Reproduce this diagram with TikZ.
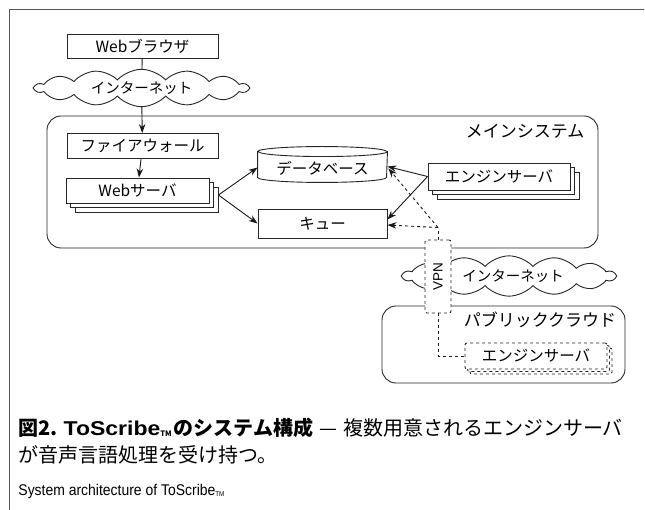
\documentclass[tikz,border=0pt]{standalone}
\usepackage{fontspec}
\setmainfont{Liberation Sans}
\newfontfamily\jp{Noto Sans CJK JP}
\newfontfamily\capen{Liberation Sans}[FakeStretch=0.9]
\newfontfamily\capwide{Liberation Sans}[FakeStretch=1.15]
\usetikzlibrary{shapes.symbols,shadows,arrows.meta,calc}
\begin{document}
\begin{tikzpicture}[x=1pt,y=-1pt,
  line width=0.9pt,
  box/.style={draw=black!85, fill=white, rectangle, inner sep=0pt, font=\jp\fontsize{15.5}{15.5}\selectfont},
  stack/.style={box, double copy shadow={shadow xshift=4.5pt, shadow yshift=-4.5pt, draw=black!85, fill=white}},
  dstack/.style={box, dashed, double copy shadow={shadow xshift=2.5pt, shadow yshift=-2.5pt, draw=black!85, fill=white, dashed}},
  netcloud/.style={cloud, cloud puffs=14, cloud puff arc=95, aspect=6, draw=black!85, fill=white, inner sep=0pt, font=\jp\fontsize{14.5}{14.5}\selectfont},
  grp/.style={draw=black!85, rounded corners=14pt},
  lbl/.style={inner sep=0pt, font=\jp\fontsize{17}{17}\selectfont},
  arr/.style={-{Stealth[length=9pt,width=6.5pt]}, black!90},
  darr/.style={arr, dashed},
  dline/.style={dashed, black!90}
]
\useasboundingbox (0,0) rectangle (645,510);
% outer frame
\draw[black!65, line width=1pt] (644,10) -- (9,10) -- (9,510);

% groups
\draw[grp] (47,116) rectangle (598,248);
\node[lbl] (mainlbl) at (525,131) {メインシステム};
\draw[grp] (382,306) rectangle (625,383);
\node[lbl] (publbl) at (540,320) {パブリッククラウド};

% nodes
\node[box, minimum width=151pt, minimum height=24pt] (br) at (142.5,46.5) {Webブラウザ};
\node[netcloud, minimum width=213pt, minimum height=36pt] (net1) at (141.5,88) {インターネット};
\node[box, minimum width=151pt, minimum height=25pt] (fw) at (142.5,146) {ファイアウォール};
\node[stack, minimum width=143pt, minimum height=25pt] (ws) at (137.5,190.5) {Webサーバ};

% database cylinder
\node[inner sep=0pt, minimum width=129pt, minimum height=35pt] (db) at (322.5,164.5) {};
\draw[black!85, fill=white] ($(db.north west)+(0,5)$) -- ($(db.south west)+(0,-5)$)
  arc[start angle=180, end angle=360, x radius=64.5pt, y radius=5pt]
  -- ($(db.north east)+(0,5)$)
  arc[start angle=0, end angle=-180, x radius=64.5pt, y radius=5pt] -- cycle;
\draw[black!85] ($(db.north west)+(0,5)$) arc[start angle=180, end angle=360, x radius=64.5pt, y radius=-5pt];
\node[inner sep=0pt, font=\jp\fontsize{15.5}{15.5}\selectfont] (dbt) at (322.5,168) {データベース};

\node[box, minimum width=129pt, minimum height=29pt] (q) at (322.5,223.5) {キュー};
\node[stack, minimum width=142pt, minimum height=27pt] (es) at (499,176.5) {エンジンサーバ};

% second cloud, VPN
\node[netcloud, minimum width=212pt, minimum height=34pt] (net2) at (509,276) {\hspace*{8pt}インターネット};
\node[box, dashed, minimum width=26pt, minimum height=73pt, rounded corners=2pt] (vpn) at (438,276.5) {};
\node[rotate=90, inner sep=0pt, font=\fontsize{13.5}{13.5}\selectfont] (vpnt) at (438,276.5) {VPN};
\node[dstack, minimum width=142pt, minimum height=26pt, rounded corners=2pt] (es2) at (536,356) {エンジンサーバ};

% connectors
\draw[black!90] (br) -- (net1);
\draw[arr] (net1) -- (fw);
\draw[arr] (fw) -- (ws);
\coordinate (wsout) at ($(ws.east)+(9,4.5)$);
\draw[arr] (wsout) -- ($(db.west)+(0,3)$);
\draw[arr] (wsout) -- (q.west);
\draw[arr] (es.west) -- ($(db.east)+(0,2)$);
\draw[arr] (es.west) -- ($(q.east)+(0,-4)$);
\coordinate (vj) at ($(vpn.north)+(0,-12)$);
\draw[dline] (vpn.north) -- (vj);
\draw[darr] (vj) -- ($(db.east)+(1,4)$);
\draw[darr] (vj) -- ($(q.east)+(0,1.5)$);
\draw[dline] (vpn.south) |- (es2.west);

% caption
\node[anchor=base west, inner sep=0pt, font=\jp\fontsize{20}{20}\selectfont] (cap1) at (18,435)
  {\textbf{図2.\hspace{6pt}{\capwide\bfseries ToScribe}\raisebox{-1pt}{\fontsize{7.5}{7.5}\selectfont TM}\hspace{2pt}のシステム構成}\hspace{6pt}—\hspace{6pt}複数用意されるエンジンサーバ};
\node[anchor=base west, inner sep=0pt, font=\jp\fontsize{20}{20}\selectfont] (cap2) at (18,462)
  {が音声言語処理を受け持つ。};
\node[anchor=base west, inner sep=0pt, font=\capen\fontsize{15.5}{15.5}\selectfont] (cap3) at (18,495)
  {System architecture of ToScribe\raisebox{-1.5pt}{\fontsize{7}{7}\selectfont TM}};
\end{tikzpicture}
\end{document}
